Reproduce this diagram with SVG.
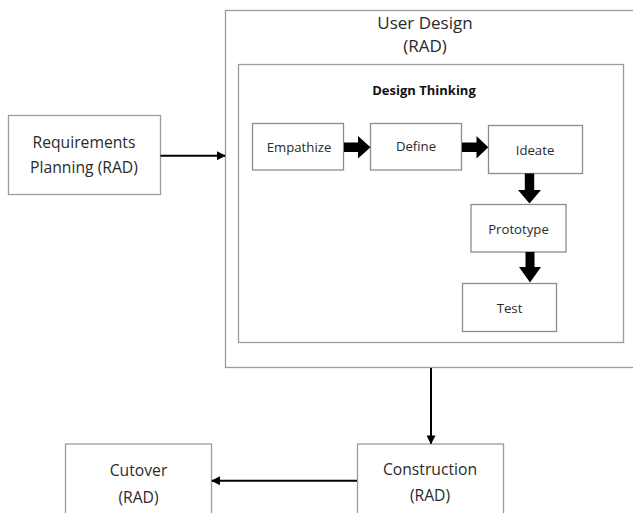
<svg xmlns="http://www.w3.org/2000/svg" width="633" height="513" viewBox="0 0 633 513">
  <style>
    .box { fill: #ffffff; stroke: #9c9c9c; stroke-width: 1.3; }
    .step { fill: #ffffff; stroke: #8c8c8c; stroke-width: 1.3; }
    .lbl { font-family: "Open Sans", "Noto Sans", sans-serif; fill: #2a2a2a; text-anchor: middle; dominant-baseline: central; }
    .big { font-size: 15.7px; }
    .head { font-size: 17px; }
    .small { font-size: 13.2px; }
    .title { font-size: 13px; font-weight: bold; fill: #111111; }
    .link { stroke: #000000; stroke-width: 2; fill: none; }
    .fat { fill: #000000; }
  </style>
  <defs>
    <marker id="tip" viewBox="0 0 10 10" refX="9" refY="5" markerWidth="4.5" markerHeight="4.5" orient="auto" markerUnits="strokeWidth">
      <path d="M0,0 L10,5 L0,10 z" fill="#000000"/>
    </marker>
  </defs>

  <!-- User Design container -->
  <g id="user-design">
    <rect class="box" x="225.5" y="10.5" width="420" height="357"/>
    <text class="lbl head" x="425" y="22">User Design</text>
    <text class="lbl head" x="425" y="45">(RAD)</text>
  </g>

  <!-- Design Thinking container -->
  <g id="design-thinking">
    <rect class="box" x="238.5" y="64.5" width="385" height="278"/>
    <text class="lbl title" x="424" y="90">Design Thinking</text>
  </g>

  <g id="requirements">
    <rect class="box" x="8.5" y="115.5" width="152" height="79"/>
    <text class="lbl big" x="84" y="141.5">Requirements</text>
    <text class="lbl big" x="84" y="166.5">Planning (RAD)</text>
  </g>

  <g id="empathize">
    <rect class="step" x="252.5" y="123.5" width="91" height="46.5"/>
    <text class="lbl small" x="299" y="146.5">Empathize</text>
  </g>

  <g id="define">
    <rect class="step" x="370.5" y="123.5" width="91" height="46.5"/>
    <text class="lbl small" x="416" y="146">Define</text>
  </g>

  <g id="ideate">
    <rect class="step" x="488.5" y="125.5" width="94" height="48"/>
    <text class="lbl small" x="535" y="150">Ideate</text>
  </g>

  <g id="prototype">
    <rect class="step" x="471" y="204.5" width="95" height="47.5"/>
    <text class="lbl small" x="518.5" y="229">Prototype</text>
  </g>

  <g id="test">
    <rect class="step" x="462.5" y="283.5" width="94" height="48"/>
    <text class="lbl small" x="509.5" y="308">Test</text>
  </g>

  <g id="construction">
    <rect class="box" x="357.5" y="444" width="146" height="80"/>
    <text class="lbl big" x="430" y="469">Construction</text>
    <text class="lbl big" x="430" y="495">(RAD)</text>
  </g>

  <g id="cutover">
    <rect class="box" x="65.5" y="444" width="146" height="80"/>
    <text class="lbl big" x="138.5" y="470">Cutover</text>
    <text class="lbl big" x="138.5" y="496.5">(RAD)</text>
  </g>

  <g id="connectors">
    <line class="link" x1="160.5" y1="155.7" x2="225" y2="155.7" marker-end="url(#tip)"/>
    <line class="link" x1="431" y1="368" x2="431" y2="443.5" marker-end="url(#tip)"/>
    <line class="link" x1="357" y1="480.7" x2="212" y2="480.7" marker-end="url(#tip)"/>
    <!-- block arrows between the design thinking steps -->
    <path class="fat" d="M344,142.5 H358 V136 L370.5,147.2 L358,158.5 V152 H344 z"/>
    <path class="fat" d="M462,142.5 H476.5 V136 L488.3,147.2 L476.5,158.5 V152 H462 z"/>
    <path class="fat" d="M524.8,173.5 V190 H518 L529.5,203.5 L541,190 H534.2 V173.5 z"/>
    <path class="fat" d="M525.5,252 V267 H519 L530,282.5 L541,267 H534.5 V252 z"/>
  </g>
</svg>
